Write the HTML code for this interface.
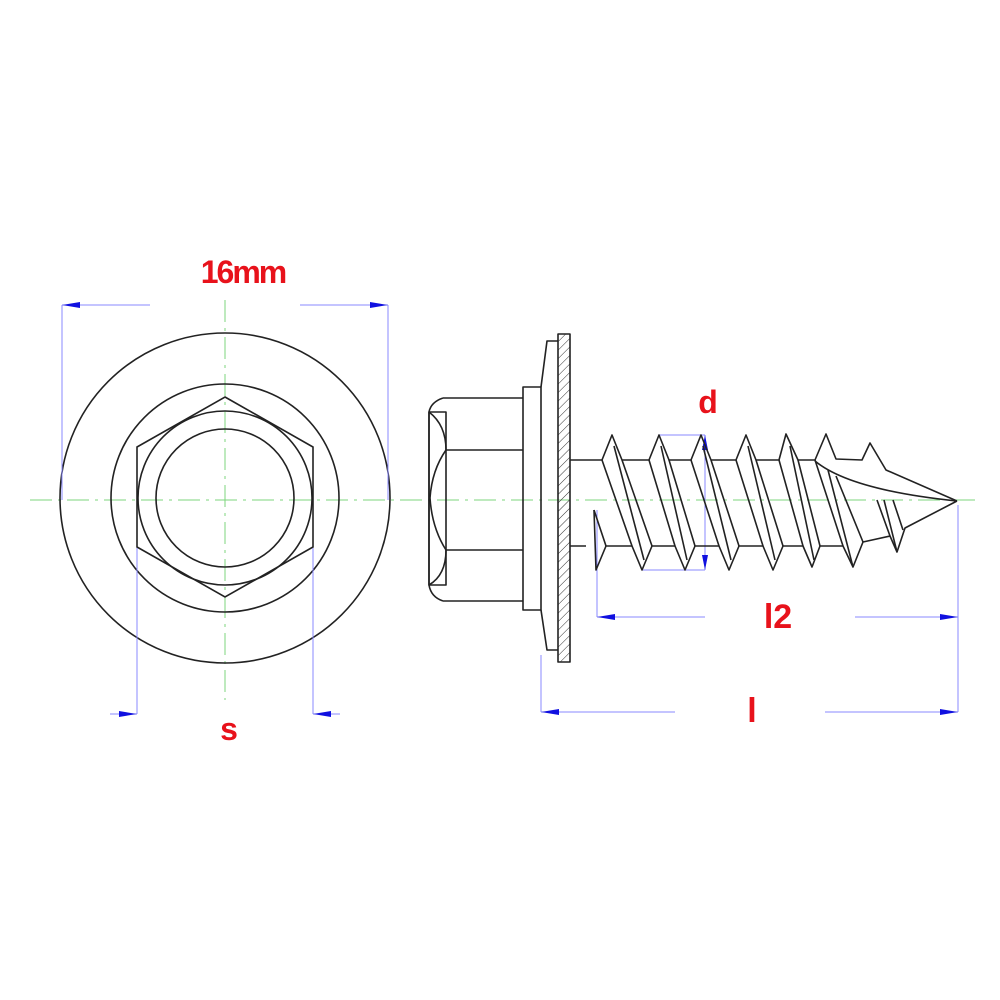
<!DOCTYPE html>
<html><head><meta charset="utf-8"><style>
html,body{margin:0;padding:0;background:#fff}
svg{display:block}
text{font-family:"Liberation Sans",sans-serif;font-weight:bold;fill:#e8121b}
</style></head><body>
<svg width="1000" height="1000" viewBox="0 0 1000 1000" xmlns="http://www.w3.org/2000/svg">
<defs>
<pattern id="h" width="6" height="6" patternUnits="userSpaceOnUse" patternTransform="rotate(45)">
<line x1="0" y1="0" x2="0" y2="6" stroke="#333" stroke-width="1"/></pattern>
</defs>
<!-- center lines -->
<g stroke="#7cd67c" stroke-width="1" stroke-dasharray="22,6,3,6" fill="none">
<line x1="30" y1="500" x2="975" y2="500"/>
<line x1="225" y1="300" x2="225" y2="700"/>
</g>
<!-- left view -->
<g stroke="#222" stroke-width="1.6" fill="none">
<circle cx="225" cy="498" r="165"/>
<circle cx="225" cy="498" r="114"/>
<circle cx="225" cy="498" r="87"/>
<circle cx="225" cy="498" r="69"/>
<polygon points="225,397 313,447 313,547 225,597 137,547 137,447"/>
</g>
<!-- dimension lines -->
<g stroke="#8a8aff" stroke-width="1" fill="none">
<line x1="62" y1="305" x2="150" y2="305"/><line x1="300" y1="305" x2="388" y2="305"/>
<line x1="62" y1="305" x2="62" y2="500"/><line x1="388" y1="305" x2="388" y2="500"/>
<line x1="110" y1="714" x2="137" y2="714"/><line x1="313" y1="714" x2="340" y2="714"/>
<line x1="137" y1="548" x2="137" y2="714"/><line x1="313" y1="548" x2="313" y2="714"/>
<line x1="659" y1="435" x2="705" y2="435"/><line x1="642" y1="570" x2="705" y2="570"/>
<line x1="705" y1="435" x2="705" y2="570"/>
<line x1="597" y1="510" x2="597" y2="617"/><line x1="958" y1="505" x2="958" y2="712"/>
<line x1="597" y1="617" x2="705" y2="617"/><line x1="855" y1="617" x2="958" y2="617"/>
<line x1="541" y1="655" x2="541" y2="712"/>
<line x1="541" y1="712" x2="675" y2="712"/><line x1="825" y1="712" x2="958" y2="712"/>
</g>
<g fill="#1010e0">
<polygon points="62,305 80,302 80,308"/><polygon points="388,305 370,302 370,308"/>
<polygon points="137,714 119,711 119,717"/><polygon points="313,714 331,711 331,717"/>
<polygon points="705,435 702,450 708,450"/><polygon points="705,570 702,555 708,555"/>
<polygon points="597,617 615,614 615,620"/><polygon points="958,617 940,614 940,620"/>
<polygon points="541,712 559,709 559,715"/><polygon points="958,712 940,709 940,715"/>
</g>
<!-- right view head -->
<g stroke="#222" stroke-width="1.6" fill="none" stroke-linejoin="round">
<path d="M443,398 L523,398 M443,601 L523,601 M443,398 Q431,402 429,412 L429,585 Q431,597 443,601"/>
<rect x="429" y="412" width="17" height="173"/>
<line x1="446" y1="450" x2="523" y2="450"/><line x1="446" y1="550" x2="523" y2="550"/>
<path d="M429,412 Q446,425 446,450 Q432,470 430,498 Q432,528 446,550 Q446,575 429,585"/>
<rect x="523" y="387" width="18" height="223"/>
<path d="M541,387 L547,341 L558,341 M541,610 L547,650 L558,650"/>
<rect x="558" y="334" width="12" height="328" fill="url(#h)"/>
<!-- shank/thread top -->
<path d="M570,460 L602,460 L612,435 L622,460 L649,460 L659,435 L669,460 L691,460 L701,435 L711,460 L736,460 L746,435 L756,460 L779,460 L786,434 L798,460 L815,460 L826,434 L836,459 L862,460 L870,443 L886,470 L957,501"/>
<path d="M815,461 Q850,490 957,501"/>
<!-- bottom -->
<path d="M570,546 L586,546 M594,510 L596,570 L606,546 L632,546 L642,570 L652,546 L675,546 L685,570 L695,546 L719,546 L729,570 L739,546 L763,546 L773,570 L783,546 L803,546 L812,567 L820,546 L843,546 L853,567 L863,542 L890,536 L897,552 L905,528 L957,501"/>
<path d="M594,510 L606,546"/>
<!-- helix lines -->
<path d="M602,460 L632,546 M614,446 L644,560 M622,460 L652,546
M649,460 L675,546 M661,446 L687,560 M669,460 L695,546
M691,460 L719,546 M703,446 L731,560 M711,460 L739,546
M736,460 L763,546 M748,446 L775,560 M756,460 L783,546
M779,460 L803,546 M790,446 L814,560 M798,460 L820,546
M815,460 L843,546 M828,470 L853,567 M836,476 L863,542
M877,500 L890,536 M884,500 L897,552 M893,500 L903,530"/>
</g>
<text x="243" y="283" font-size="32" text-anchor="middle" letter-spacing="-2">16mm</text>
<text x="229" y="740" font-size="32" text-anchor="middle">s</text>
<text x="708" y="413" font-size="32" text-anchor="middle">d</text>
<text x="778" y="628" font-size="34" text-anchor="middle">l2</text>
<text x="752" y="722" font-size="34" text-anchor="middle">l</text>
</svg>
</body></html>
